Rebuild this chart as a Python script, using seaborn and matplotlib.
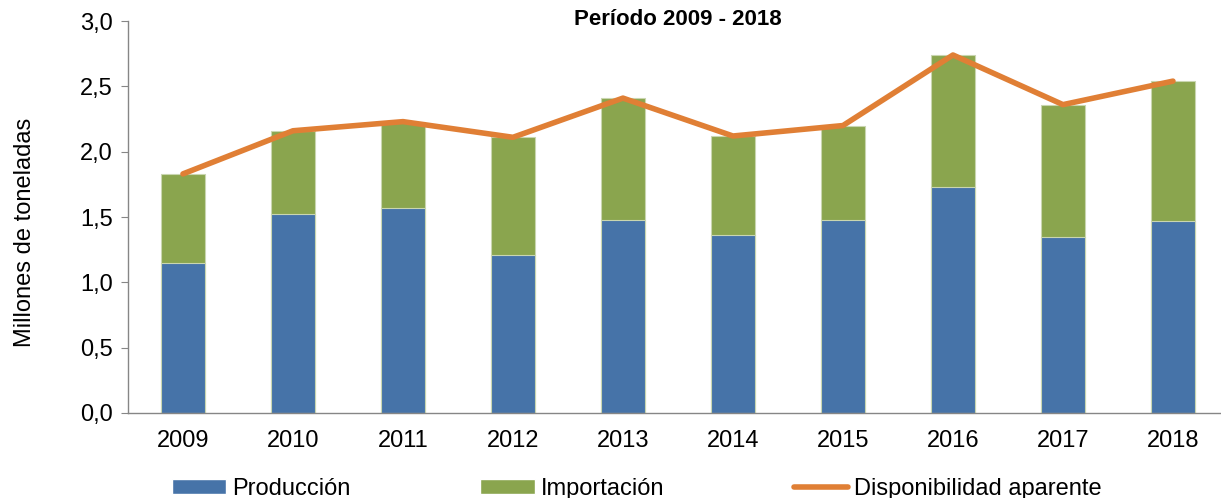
import numpy as np
import pandas as pd
import matplotlib
matplotlib.use("Agg")
import matplotlib.pyplot as plt
import seaborn as sns
from matplotlib.patches import Patch
from matplotlib.lines import Line2D
from matplotlib.ticker import FixedLocator, FuncFormatter

years = ["2009", "2010", "2011", "2012", "2013", "2014", "2015", "2016", "2017", "2018"]
produccion = [1.15, 1.52, 1.57, 1.21, 1.48, 1.36, 1.48, 1.73, 1.35, 1.47]
importacion = [0.68, 0.64, 0.66, 0.90, 0.93, 0.76, 0.72, 1.01, 1.01, 1.07]
disponibilidad = [1.83, 2.16, 2.23, 2.11, 2.41, 2.12, 2.20, 2.74, 2.36, 2.54]

blue = "#4673A8"
green = "#8AA54E"
orange = "#E07F35"

df = pd.DataFrame({"anio": years, "prod": produccion, "imp": importacion, "disp": disponibilidad})
df["total"] = df["prod"] + df["imp"]

sns.set_style("white")
plt.rcParams["font.family"] = ["Liberation Sans", "DejaVu Sans"]
plt.rcParams["text.color"] = "black"
plt.rcParams["axes.labelcolor"] = "black"
plt.rcParams["xtick.color"] = "black"
plt.rcParams["ytick.color"] = "black"

fig = plt.figure(figsize=(12.21, 4.98), dpi=100)
ax = fig.add_axes([0.1048, 0.1707, 0.9009, 0.7871])

# stacked bars: total in green behind, production in blue in front
sns.barplot(data=df, x="anio", y="total", color=green, width=0.4, saturation=1,
            edgecolor="#c9d6b0", linewidth=0.8, ax=ax)
sns.barplot(data=df, x="anio", y="prod", color=blue, width=0.4, saturation=1,
            edgecolor="#c9d6b0", linewidth=0.8, ax=ax)
sns.lineplot(x=np.arange(len(years)), y=df["disp"], color=orange, linewidth=4,
             solid_capstyle="round", ax=ax)

ax.set_xlim(-0.5, 9.5)
ax.set_ylim(0, 3.0)
ax.set_yticks(np.arange(0, 3.01, 0.5))
ax.yaxis.set_major_formatter(FuncFormatter(lambda v, p: f"{v:.1f}".replace(".", ",")))
ax.xaxis.set_minor_locator(FixedLocator(np.arange(-0.5, 10, 1)))
ax.tick_params(axis="x", which="major", length=0, pad=12, labelsize=17, labelcolor="black")
ax.tick_params(axis="x", which="minor", length=7, color="#868686", direction="out")
ax.tick_params(axis="y", length=5, color="#868686", direction="out", labelsize=17,
               pad=6, left=True, labelcolor="black")
ax.set_xlabel("")
ax.set_ylabel("Millones de toneladas", fontsize=17, color="black")
ax.yaxis.set_label_coords(-0.0835, 0.462)
ax.set_title("Período 2009 - 2018", fontsize=16, fontweight="bold", pad=0, y=0.99, color="black")

for s in ["top", "right"]:
    ax.spines[s].set_visible(False)
for s in ["left", "bottom"]:
    ax.spines[s].set_color("#868686")
    ax.spines[s].set_linewidth(1)

handles = [Patch(facecolor=blue), Patch(facecolor=green),
           Line2D([0], [0], color=orange, linewidth=4)]
labels = ["Producción", "Importación", "Disponibilidad aparente"]
fig.legend(handles, labels, loc="lower left", bbox_to_anchor=(0.1235, -0.047), ncol=3,
           frameon=False, fontsize=17, handlelength=2.3, handleheight=0.6,
           handletextpad=0.25, columnspacing=5.5)

fig.savefig("out.png", dpi=100)
